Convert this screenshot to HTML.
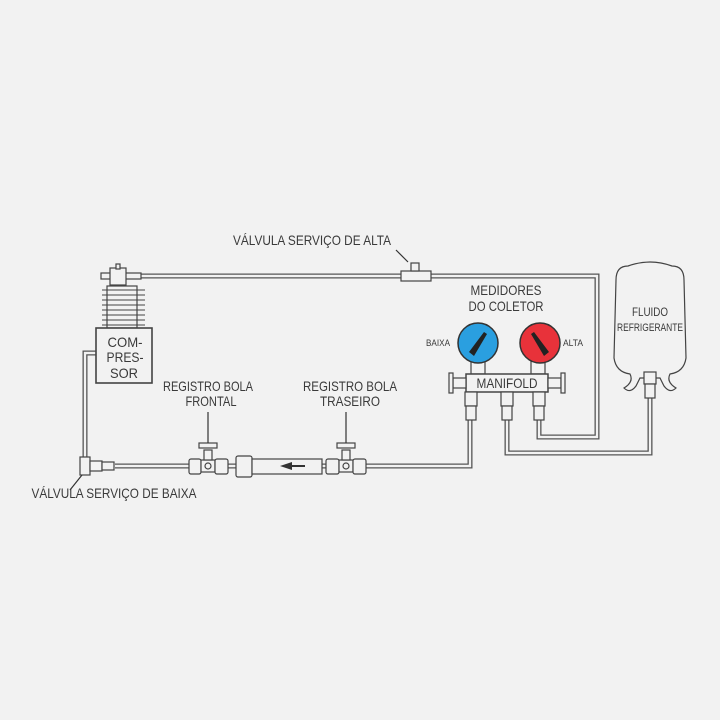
<!DOCTYPE html>
<html><head><meta charset="utf-8"><style>
html,body{margin:0;padding:0;background:#f2f2f2;}
svg{display:block;}
text{font-family:"Liberation Sans Narrow","Liberation Sans",sans-serif;fill:#3a3a3a;}
</style></head><body>
<svg width="720" height="720" viewBox="0 0 720 720" xmlns="http://www.w3.org/2000/svg">
<rect width="720" height="720" fill="#f2f2f2"/>
<g fill="none" stroke-linejoin="miter">
<g stroke="#555" stroke-width="5">
<path d="M140 276 H597 V437 H539 V420"/>
<path d="M96 353 H85 V458"/>
<path d="M115 466 H470 V420"/>
<path d="M507 420 V453 H650 V398"/>
</g>
<g stroke="#f2f2f2" stroke-width="2.4">
<path d="M140 276 H597 V437 H539 V420"/>
<path d="M96 353 H85 V458"/>
<path d="M115 466 H470 V420"/>
<path d="M507 420 V453 H650 V398"/>
</g>
</g>
<g stroke="#444" stroke-width="1.2" fill="#f2f2f2">
<rect x="101" y="273" width="40" height="6"/>
<rect x="110" y="268" width="16" height="17"/>
<rect x="116" y="264" width="4" height="5"/>
<rect x="107" y="286" width="30" height="42"/>
<g stroke-width="1">
<line x1="102" y1="290" x2="145" y2="290"/><line x1="102" y1="295" x2="145" y2="295"/>
<line x1="102" y1="300" x2="145" y2="300"/><line x1="102" y1="305" x2="145" y2="305"/>
<line x1="102" y1="310" x2="145" y2="310"/><line x1="102" y1="315" x2="145" y2="315"/>
<line x1="102" y1="320" x2="145" y2="320"/><line x1="102" y1="325" x2="145" y2="325"/>
</g>
<rect x="96" y="328" width="56" height="55" stroke-width="1.6"/>
<rect x="401" y="271" width="30" height="10"/>
<rect x="411" y="263" width="8" height="8"/>
<rect x="80" y="457" width="10" height="18"/>
<rect x="90" y="461" width="12" height="10"/>
<rect x="102" y="462" width="12" height="8"/>
<rect x="189" y="459" width="12" height="15" rx="2"/>
<rect x="201" y="460" width="14" height="12"/>
<circle cx="208" cy="466" r="3"/>
<rect x="204" y="450" width="8" height="10"/>
<rect x="199" y="443" width="18" height="5"/>
<rect x="215" y="459" width="13" height="15" rx="2"/>
<rect x="236" y="456" width="16" height="21" rx="2"/>
<rect x="252" y="459" width="70" height="15"/>
<rect x="326" y="459" width="13" height="15" rx="2"/>
<rect x="339" y="460" width="14" height="12"/>
<circle cx="346" cy="466" r="3"/>
<rect x="342" y="450" width="8" height="10"/>
<rect x="337" y="443" width="18" height="5"/>
<rect x="353" y="459" width="13" height="15" rx="2"/>
</g>
<g stroke="#333" stroke-width="1.2">
<line x1="208" y1="412" x2="208" y2="443"/>
<line x1="346" y1="412" x2="346" y2="443"/>
<line x1="396" y1="250" x2="408" y2="262"/>
<line x1="70" y1="490" x2="82" y2="475"/>
<line x1="290" y1="466" x2="305" y2="466" stroke-width="2"/>
</g>
<path d="M280 466 L292 462 L292 470 Z" fill="#333"/>
<g stroke="#444" stroke-width="1.2" fill="#f2f2f2">
<rect x="471" y="360" width="14" height="14"/>
<rect x="531" y="360" width="14" height="14"/>
<rect x="466" y="374" width="82" height="18" stroke-width="1.5"/>
<rect x="453" y="378" width="13" height="10"/>
<rect x="449" y="373" width="4" height="20"/>
<rect x="548" y="378" width="13" height="10"/>
<rect x="561" y="373" width="4" height="20"/>
<rect x="465" y="392" width="12" height="14"/>
<rect x="466" y="406" width="10" height="14"/>
<rect x="501" y="392" width="12" height="14"/>
<rect x="502" y="406" width="10" height="14"/>
<rect x="533" y="392" width="12" height="14"/>
<rect x="534" y="406" width="10" height="14"/>
<path d="M628 266 Q650 258 672 266 Q684 266 684 280 L686 358 Q684 372 670 374 Q666 382 676 388 Q670 394 664 386 L660 378 L640 378 L636 386 Q630 394 624 388 Q634 382 630 374 Q616 372 614 358 L616 280 Q616 266 628 266 Z"/>
<rect x="644" y="372" width="12" height="12"/>
<rect x="645" y="384" width="10" height="14"/>
</g>
<circle cx="478" cy="343" r="20" fill="#2a9fe0" stroke="#333" stroke-width="1.5"/>
<circle cx="540" cy="343" r="20" fill="#e8323a" stroke="#333" stroke-width="1.5"/>
<path d="M469 352 L484 332 L487 334 L474 356 Z" fill="#222"/>
<path d="M549 352 L534 332 L531 334 L544 356 Z" fill="#222"/>
<g font-size="14" text-anchor="middle" lengthAdjust="spacingAndGlyphs">
<text x="125" y="347" textLength="35" lengthAdjust="spacingAndGlyphs">COM-</text>
<text x="125" y="362" textLength="37" lengthAdjust="spacingAndGlyphs">PRES-</text>
<text x="124" y="378" textLength="28" lengthAdjust="spacingAndGlyphs">SOR</text>
<text x="312" y="245" textLength="158" lengthAdjust="spacingAndGlyphs">VÁLVULA SERVIÇO DE ALTA</text>
<text x="208" y="391" textLength="90" lengthAdjust="spacingAndGlyphs">REGISTRO BOLA</text>
<text x="211" y="406" textLength="51" lengthAdjust="spacingAndGlyphs">FRONTAL</text>
<text x="350" y="391" textLength="94" lengthAdjust="spacingAndGlyphs">REGISTRO BOLA</text>
<text x="350" y="406" textLength="60" lengthAdjust="spacingAndGlyphs">TRASEIRO</text>
<text x="114" y="498" textLength="165" lengthAdjust="spacingAndGlyphs">VÁLVULA SERVIÇO DE BAIXA</text>
<text x="506" y="295" textLength="71" lengthAdjust="spacingAndGlyphs">MEDIDORES</text>
<text x="506" y="311" textLength="75" lengthAdjust="spacingAndGlyphs">DO COLETOR</text>
<text x="507" y="388" textLength="61" lengthAdjust="spacingAndGlyphs">MANIFOLD</text>
<text x="650" y="316" font-size="12" textLength="36" lengthAdjust="spacingAndGlyphs">FLUIDO</text>
<text x="650" y="331" font-size="11" textLength="66" lengthAdjust="spacingAndGlyphs">REFRIGERANTE</text>
<text x="438" y="346" font-size="9" textLength="24" lengthAdjust="spacingAndGlyphs">BAIXA</text>
<text x="573" y="346" font-size="9" textLength="20" lengthAdjust="spacingAndGlyphs">ALTA</text>
</g>
</svg>
</body></html>
